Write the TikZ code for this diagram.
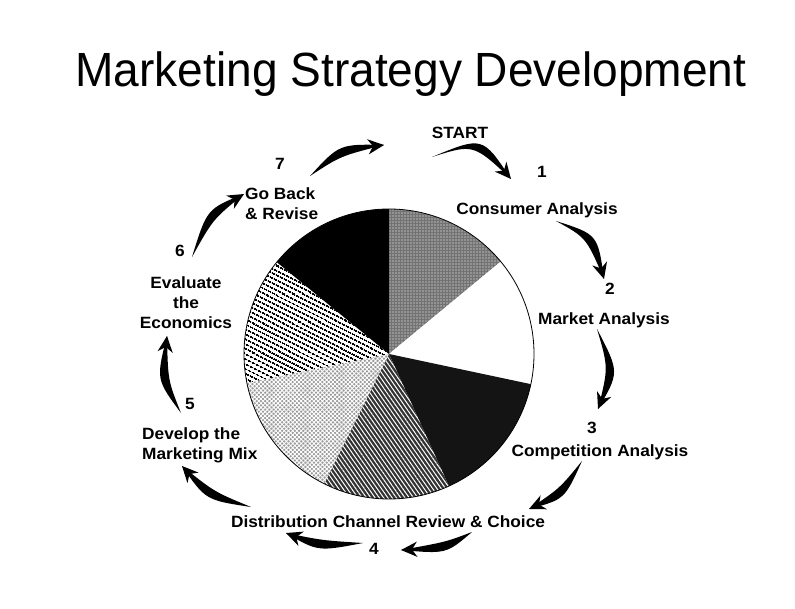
\documentclass[tikz,border=0pt]{standalone}
\usepackage{fontspec}
\setmainfont{Liberation Sans}
\newfontfamily\labfont[FakeStretch=1.06]{Liberation Sans Bold}
\newfontfamily\titfont[FakeStretch=0.96]{Liberation Sans}
\usetikzlibrary{calc,arrows.meta,patterns.meta}
\newcommand\quill[4]{%
  \fill ($(#1)$) .. controls ($(#2)!#4!90:(#3)$) .. (#3) .. controls ($(#2)!#4!-90:(#3)$) .. (#1);
  \draw[flowtip] ($(#2)!0.75!(#3)$) -- (#3);
}
\begin{document}
\begin{tikzpicture}[x=1pt,y=-1pt,
  lab/.style={font=\labfont\fontsize{16.3}{20}\selectfont, inner sep=0pt, align=center},
  labl/.style={lab, align=left},
  flowtip/.style={line width=2.4pt, -{Stealth[length=16pt,width=15pt,inset=5pt]}}]
\useasboundingbox (0,0) rectangle (795,609);
\fill[white] (0,0) rectangle (795,609);

% title
\node[font=\titfont\fontsize{48}{56}\selectfont, inner sep=0pt, anchor=base] (title) at (411,87) {Marketing Strategy Development};

% pie
\coordinate (O) at (389,354);
\def\R{145}
% dotted (top right)
\fill[black!55] (O) -- ++(-39.6:\R) arc[start angle=-39.6, end angle=-90, radius=\R] -- cycle;
\fill[pattern={Dots[distance=3pt,radius=0.7pt]}, pattern color=white] (O) -- ++(-39.6:\R) arc[start angle=-39.6, end angle=-90, radius=\R] -- cycle;
% white
\fill[white] (O) -- ++(12:\R) arc[start angle=12, end angle=-39.6, radius=\R] -- cycle;
% black speckled
\fill[black!92] (O) -- ++(65.6:\R) arc[start angle=65.6, end angle=12, radius=\R] -- cycle;
% dark hatched
\fill[black!80] (O) -- ++(116.6:\R) arc[start angle=116.6, end angle=65.6, radius=\R] -- cycle;
\fill[pattern={Lines[angle=-55,distance=3.5pt,line width=1pt]}, pattern color=white] (O) -- ++(116.6:\R) arc[start angle=116.6, end angle=65.6, radius=\R] -- cycle;
% light crosshatch
\fill[black!40] (O) -- ++(168.5:\R) arc[start angle=168.5, end angle=116.6, radius=\R] -- cycle;
\fill[pattern={Hatch[angle=45,distance=3pt,line width=0.9pt]}, pattern color=white] (O) -- ++(168.5:\R) arc[start angle=168.5, end angle=116.6, radius=\R] -- cycle;
% stripes
\fill[white] (O) -- ++(-140.7:\R) arc[start angle=-140.7, end angle=-191.5, radius=\R] -- cycle;
\fill[pattern={Lines[angle=-27,distance=4pt,line width=1.8pt]}, pattern color=black] (O) -- ++(-140.7:\R) arc[start angle=-140.7, end angle=-191.5, radius=\R] -- cycle;
% black
\fill[black] (O) -- ++(-90:\R) arc[start angle=-90, end angle=-140.7, radius=\R] -- cycle;
\draw[line width=0.8pt] (O) circle[radius=\R];

% labels
\node[lab] (start) at (460,133) {START};
\node[lab] (n1) at (542,172) {1};
\node[lab] (cons) at (537,210) {Consumer Analysis};
\node[lab] (n2) at (610,289) {2};
\node[lab] (mark) at (604,320) {Market Analysis};
\node[lab] (n3) at (592,428) {3};
\node[lab] (comp) at (600,452) {Competition Analysis};
\node[lab] (dist) at (388,522) {Distribution Channel Review \& Choice};
\node[lab] (n4) at (374,549) {4};
\node[labl, anchor=west] (dev) at (142,445) {Develop the\\Marketing Mix};
\node[lab] (n5) at (190,404) {5};
\node[lab] (eval) at (186,303) {Evaluate\\the\\Economics};
\node[lab] (n6) at (180,251) {6};
\node[labl, anchor=west] (goback) at (245,204) {Go Back\\\& Revise};
\node[lab] (n7) at (280,164) {7};

% arrows
\coordinate (a1s) at (432,157); \coordinate (a1c) at (478,140); \coordinate (a1e) at (511,179);
\coordinate (a2s) at (556,221); \coordinate (a2c) at (592,236); \coordinate (a2e) at (604,279);
\coordinate (a3s) at (597,329); \coordinate (a3c) at (614,370); \coordinate (a3e) at (598,409);
\coordinate (a4s) at (582,461); \coordinate (a4c) at (562,494); \coordinate (a4e) at (529,509);
\coordinate (a5s) at (472,532); \coordinate (a5c) at (446,548); \coordinate (a5e) at (401,550);
\coordinate (a6s) at (363,543); \coordinate (a6c) at (320,546); \coordinate (a6e) at (286,533);
\coordinate (a7s) at (251,507); \coordinate (a7c) at (210,496); \coordinate (a7e) at (182,466);
\coordinate (a8s) at (181,413); \coordinate (a8c) at (162,380); \coordinate (a8e) at (167,336);
\coordinate (a9s) at (192,257); \coordinate (a9c) at (210,214); \coordinate (a9e) at (244,194);
\coordinate (a10s) at (310,176); \coordinate (a10c) at (340,150); \coordinate (a10e) at (384,145);
\quill{a1s}{a1c}{a1e}{6pt}
\quill{a2s}{a2c}{a2e}{6pt}
\quill{a3s}{a3c}{a3e}{6pt}
\quill{a4s}{a4c}{a4e}{6pt}
\quill{a5s}{a5c}{a5e}{6pt}
\quill{a6s}{a6c}{a6e}{6pt}
\quill{a7s}{a7c}{a7e}{6pt}
\quill{a8s}{a8c}{a8e}{6pt}
\quill{a9s}{a9c}{a9e}{6pt}
\quill{a10s}{a10c}{a10e}{6pt}
\end{tikzpicture}
\end{document}
